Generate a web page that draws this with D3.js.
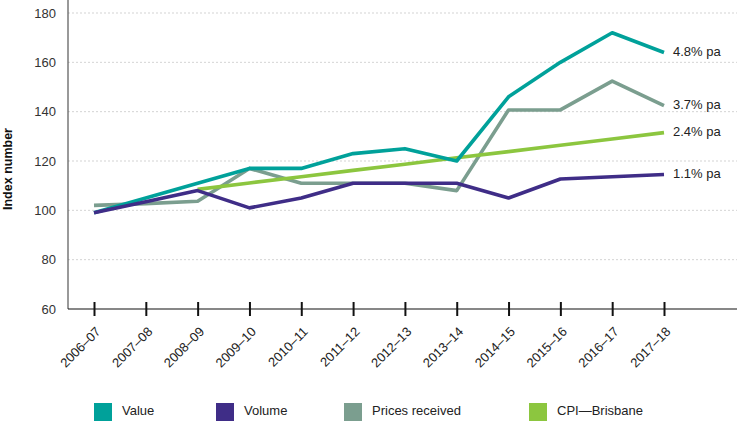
<!DOCTYPE html>
<html>
<head>
<meta charset="utf-8">
<script src="https://d3js.org/d3.v7.min.js"></script>
<style>
  body { margin: 0; background: #fff; }
  svg { font-family: "Liberation Sans", Arial, sans-serif; }
</style>
</head>
<body>
<div id="chart"></div>
<script>
// categories and series
var years = ["2006–07", "2007–08", "2008–09", "2009–10", "2010–11", "2011–12",
             "2012–13", "2013–14", "2014–15", "2015–16", "2016–17", "2017–18"];
var valueSeries = [99, 105, 111, 117, 117, 123, 125, 120, 146, 160, 172, 164];
var volumeSeries = [99, 103.5, 108, 101, 105, 111, 111, 111, 105, 112.7, 113.6, 114.5];
var pricesSeries = [102, 102.7, 103.7, 117, 111, 111, 111, 108, 140.7, 140.7, 152.4, 142.4];
var cpiSeries = [null, null, 108.5, 111.1, 113.6, 116.2, 118.7, 121.3, 123.8, 126.4, 128.9, 131.5];
var endLabels = ["4.8% pa", "1.1% pa", "3.7% pa", "2.4% pa"];
var seriesNames = ["Value", "Volume", "Prices received", "CPI—Brisbane"];
var yTicks = [60, 80, 100, 120, 140, 160, 180];

var colors = ["#00a19a", "#3f2d87", "#7b9e8f", "#8cc63f"];
var series = [valueSeries, volumeSeries, pricesSeries, cpiSeries];

var width = 743, height = 432;
var svg = d3.select("#chart").append("svg").attr("width", width).attr("height", height);

var left = 68, right = 737, bottom = 309;
var x = d3.scalePoint().domain(years).range([94, 664]);
var y = d3.scaleLinear().domain([60, 180]).range([bottom, 13]);

// grid
svg.append("g").selectAll("line")
  .data(yTicks.slice(1))
  .enter().append("line")
  .attr("x1", left).attr("x2", right)
  .attr("y1", d => y(d)).attr("y2", d => y(d))
  .attr("stroke", "#c8c8c8").attr("stroke-width", 0.8)
  .attr("stroke-dasharray", "2,2");

// y axis
var yAxis = svg.append("g").attr("transform", "translate(" + left + ",0)")
  .call(d3.axisLeft(y).tickValues(yTicks).tickSize(0).tickPadding(12));
yAxis.select(".domain").remove();
yAxis.selectAll("text").attr("font-size", 13).attr("fill", "#333")
  .attr("font-family", "Liberation Sans, Arial, sans-serif");
svg.append("line").attr("x1", left).attr("x2", left).attr("y1", 0).attr("y2", bottom)
  .attr("stroke", "#555").attr("stroke-width", 1.2);

svg.append("text")
  .attr("transform", "translate(12," + 169 + ") rotate(-90)")
  .attr("text-anchor", "middle")
  .attr("font-size", 12.5).attr("font-weight", "bold").attr("fill", "#111")
  .text("Index number");

// x axis
var xAxis = svg.append("g").attr("transform", "translate(0," + bottom + ")")
  .call(d3.axisBottom(x).tickSizeInner(7).tickSizeOuter(0).tickFormat(""));
xAxis.select(".domain").attr("d", "M" + left + ",0H" + right).attr("stroke", "#111").attr("stroke-width", 1.2);
xAxis.selectAll(".tick line").attr("y1", -7).attr("y2", 7).attr("stroke", "#111").attr("stroke-width", 2);

svg.append("g").selectAll("text")
  .data(years)
  .enter().append("text")
  .attr("transform", d => "translate(" + (x(d) + 5) + ",330) rotate(-45)")
  .attr("text-anchor", "end")
  .attr("dominant-baseline", "middle")
  .attr("font-size", 13).attr("fill", "#222")
  .text(d => d);

// lines
var line = d3.line()
  .defined(d => d != null)
  .x((d, i) => x(years[i]))
  .y(d => y(d));

var drawOrder = [2, 3, 0, 1];
drawOrder.forEach(function(k) {
  svg.append("path")
    .datum(series[k])
    .attr("fill", "none")
    .attr("stroke", colors[k])
    .attr("stroke-width", 3.6)
    .attr("stroke-linejoin", "round")
    .attr("d", line);
});

// end labels
series.forEach(function(s, k) {
  svg.append("text")
    .attr("x", 673)
    .attr("y", y(s[s.length - 1]))
    .attr("dominant-baseline", "middle")
    .attr("font-size", 13).attr("fill", "#222")
    .text(endLabels[k]);
});

// legend
var legendX = [94, 216, 344, 529];
var legend = svg.append("g").selectAll("g")
  .data(seriesNames)
  .enter().append("g")
  .attr("transform", (d, i) => "translate(" + legendX[i] + ",403)");
legend.append("rect").attr("width", 18).attr("height", 18)
  .attr("fill", (d, i) => colors[i]);
legend.append("text").attr("x", 28).attr("y", 9)
  .attr("dominant-baseline", "middle")
  .attr("font-size", 13).attr("fill", "#222")
  .text(d => d);
</script>
</body>
</html>
